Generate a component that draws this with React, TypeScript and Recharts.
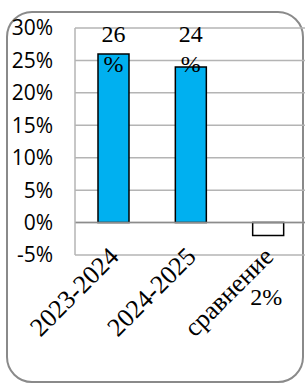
import React from 'react';
import { BarChart, Bar, XAxis, YAxis, CartesianGrid, Cell, LabelList, ReferenceLine } from 'recharts';

const categories = ['2023-2024', '2024-2025', 'сравнение'];
const values = [0.26, 0.24, -0.02];
const barFills = ['#00B0F0', '#00B0F0', '#FFFFFF'];
const yTicks = [-0.05, 0, 0.05, 0.1, 0.15, 0.2, 0.25, 0.3];
const yDomain = [-0.05, 0.3];

const data = categories.map((name, i) => ({ name, value: values[i] }));

const serif = '"Liberation Serif", "Times New Roman", serif';

const pct = (v: number) => `${Math.round(v * 100)}%`;

// Excel-like data labels: positive ones wrap to "26" / "%" and are held inside the plot top
const ValueLabel = (props: any) => {
  const { x, y, width, height, value } = props;
  const cx = x + width / 2;
  const n = Math.round(Math.abs(value) * 100);
  const textStyle = { fontFamily: serif, fontSize: 24, fill: '#000' };
  if (value >= 0) {
    const pxPerUnit = Math.abs(height) / value;
    const barTop = Math.min(y, y + height);
    const plotTop = barTop - (yDomain[1] - value) * pxPerUnit;
    return (
      <g>
        <text x={cx} y={plotTop + 14} textAnchor="middle" style={textStyle}>{n}</text>
        <text x={cx} y={plotTop + 44} textAnchor="middle" style={textStyle}>%</text>
      </g>
    );
  }
  const bottom = Math.max(y, y + height);
  return (
    <text x={cx - 2} y={bottom + 69} textAnchor="middle" style={textStyle}>
      {`${n}%`}
    </text>
  );
};

const CategoryTick = (props: any) => {
  const { x, y, payload } = props;
  const tx = x + 0.5;
  const ty = y - 3;
  return (
    <text
      x={tx}
      y={ty}
      textAnchor="end"
      dominantBaseline="central"
      style={{ fontFamily: serif, fontSize: 26, fill: '#000' }}
      transform={`rotate(-45, ${tx}, ${ty})`}
    >
      {payload.value}
    </text>
  );
};

export default function App() {
  return (
    <div style={{ position: 'absolute', left: 0, top: 0, width: 305, height: 385, overflow: 'hidden', background: '#fff' }}>
      <div
        style={{
          position: 'absolute',
          left: 6,
          top: 11,
          width: 298,
          height: 372,
          boxSizing: 'border-box',
          border: '2px solid #8a8a8a',
          borderRadius: 26,
        }}
      />
      <div style={{ position: 'absolute', left: 0, top: 0 }}>
        <BarChart width={312} height={385} data={data} margin={{ top: 28, right: 5, bottom: 0, left: 0 }}>
          <CartesianGrid vertical={false} stroke="#b4b4b4" strokeWidth={1.5} />
          <XAxis
            dataKey="name"
            height={130}
            axisLine={false}
            tickLine={false}
            tickSize={0}
            tickMargin={0}
            interval={0}
            tick={<CategoryTick />}
          />
          <YAxis
            width={75}
            domain={yDomain}
            ticks={yTicks}
            tickFormatter={pct}
            axisLine={{ stroke: '#b4b4b4', strokeWidth: 1.5 }}
            tickLine={false}
            tickSize={0}
            tickMargin={22}
            tick={{ fontFamily: '"Open Sans", sans-serif', fontSize: 21, fill: '#000' }}
          />
          <Bar dataKey="value" barSize={31} stroke="#000" strokeWidth={1.5} isAnimationActive={false}>
            {data.map((d, i) => (
              <Cell key={d.name} fill={barFills[i]} />
            ))}
            <LabelList dataKey="value" content={<ValueLabel />} />
          </Bar>
          <ReferenceLine y={0} stroke="#8c8c8c" strokeWidth={1.5} />
        </BarChart>
      </div>
    </div>
  );
}
